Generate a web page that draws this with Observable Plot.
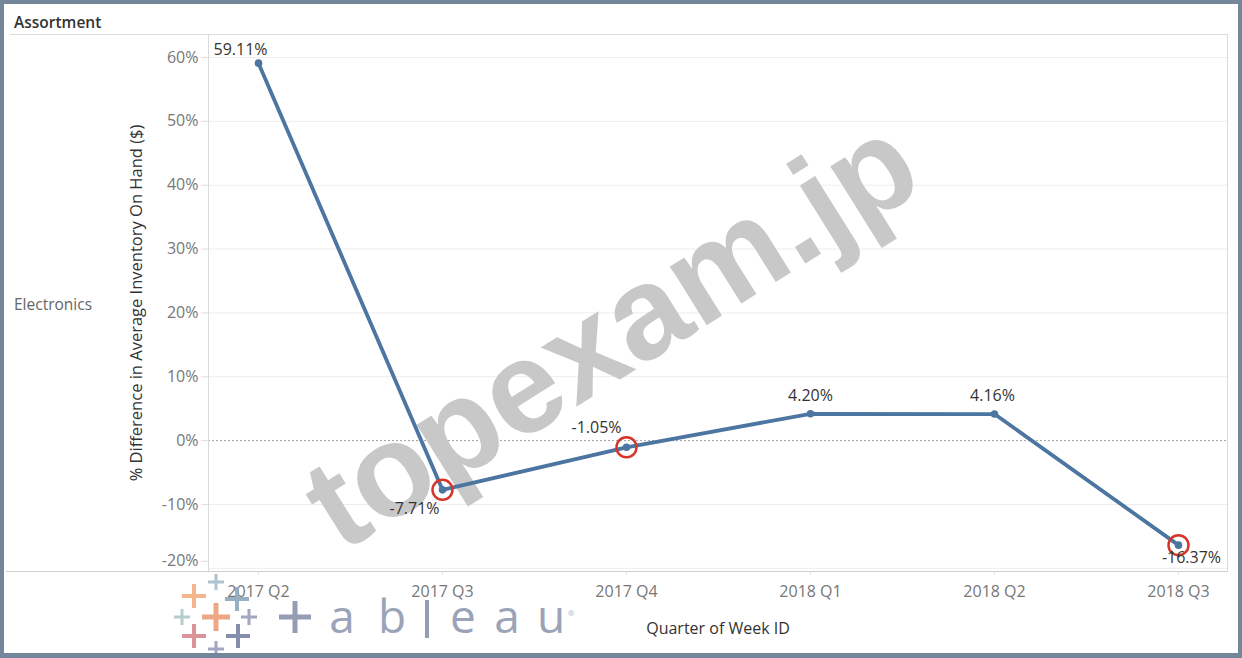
<!DOCTYPE html>
<html>
<head>
<meta charset="utf-8">
<script src="https://cdn.jsdelivr.net/npm/d3@7"></script>
<script src="https://cdn.jsdelivr.net/npm/@observablehq/plot@0.6"></script>
<style>
  html, body { margin: 0; padding: 0; background: #fff; }
  #wrap { position: relative; width: 1242px; height: 658px; overflow: hidden; font-family: "Open Sans", sans-serif; }
  #chart, #logo, #border { position: absolute; left: 0; top: 0; }
  #border { width: 1242px; height: 658px; box-sizing: border-box; border: 4px solid #74869a; border-bottom-width: 5px; pointer-events: none; }
  .hdr { position: absolute; left: 14px; top: 11px; font-size: 15.5px; font-weight: 600; color: #333; }
  .rowlab { position: absolute; left: 14px; top: 293px; font-size: 15.5px; color: #666; }
  .hline { position: absolute; height: 1px; background: #dcdcdc; }
  g[aria-label="y-axis label"], g[aria-label="x-axis label"] { fill: #333; }
  g[aria-label="y-axis label"] { font-size: 16.5px; }
</style>
</head>
<body>
<div id="wrap">
  <div id="chart"></div>
  <div class="hline" style="left:10px; width:1217px; top:34px;"></div>
  <div class="hline" style="left:6px; width:1221px; top:571px; background:#d0d0d0;"></div>
  <div class="hdr">Assortment</div>
  <div class="rowlab">Electronics</div>
  <svg id="logo" width="1242" height="658"></svg>
  <div id="border"></div>
</div>
<script>
// values
var quarters = ["2017 Q2", "2017 Q3", "2017 Q4", "2018 Q1", "2018 Q2", "2018 Q3"];
var pctDiff = [59.11, -7.71, -1.05, 4.20, 4.16, -16.37];
var highlighted = ["2017 Q3", "2017 Q4", "2018 Q3"];
var yTicks = [-20, -10, 0, 10, 20, 30, 40, 50, 60];

var data = quarters.map(function(q, i) { return {quarter: q, value: pctDiff[i]}; });
var fmt = function(v) { return v.toFixed(2) + "%"; };

var lineColor = "#4c76a1";

// one data label, nudged the way Tableau keeps it inside the pane
function label(q, dx, dy) {
  return Plot.text(data.filter(function(d) { return d.quarter === q; }), {
    x: "quarter", y: "value", text: function(d) { return fmt(d.value); },
    dx: dx, dy: dy, fill: "#333", fontSize: 16
  });
}

var plot = Plot.plot({
  width: 1242,
  height: 658,
  marginLeft: 208,
  marginRight: 15,
  marginTop: 34,
  marginBottom: 87,
  style: {fontFamily: "'Open Sans', sans-serif", fontSize: "16px", background: "transparent", overflow: "visible"},
  x: {type: "point", domain: quarters, padding: 0.263},
  y: {domain: [-20.5, 63.6]},
  marks: [
    Plot.ruleY(yTicks.filter(function(t) { return t !== 0; }), {stroke: "#ededed"}),
    Plot.ruleY([0], {stroke: "#a0a0a0", strokeDasharray: "2,2"}),
    Plot.frame({stroke: "#dadada"}),
    Plot.text(["topexam.jp"], {
      frameAnchor: "middle", text: function(d) { return d; }, rotate: -32,
      dx: -106, dy: 32, fontSize: 131, fontWeight: "bold",
      fontFamily: "'Liberation Sans', Arial, sans-serif", fill: "#c8c8c8"
    }),
    Plot.axisY(yTicks.filter(function(t) { return t > -20; }), {
      tickFormat: function(d) { return d + "%"; }, tickSize: 7, tickPadding: 3,
      stroke: "#e0e0e0", fill: "#777",
      label: "% Difference in Average Inventory On Hand ($)", labelAnchor: "center",
      labelArrow: "none", labelOffset: 78
    }),
    Plot.axisY([-20], {
      tickFormat: function(d) { return d + "%"; }, tickSize: 7, tickPadding: 3,
      stroke: "#e0e0e0", fill: "#777", dy: -7, label: null
    }),
    Plot.axisX({
      tickSize: 4, tickPadding: 10, stroke: "#e6e6e6", fill: "#777",
      label: "Quarter of Week ID", labelAnchor: "center", labelArrow: "none", labelOffset: 62
    }),
    Plot.line(data, {x: "quarter", y: "value", stroke: lineColor, strokeWidth: 3.8}),
    Plot.dot(data, {x: "quarter", y: "value", r: 3.8, fill: lineColor}),
    Plot.dot(data.filter(function(d) { return highlighted.indexOf(d.quarter) >= 0; }), {
      x: "quarter", y: "value", r: 10, stroke: "#d7352a", strokeWidth: 2.5, fill: "none"
    }),
    label("2017 Q2", -18, -13),
    label("2017 Q3", -28, 19),
    label("2017 Q4", -30, -19),
    label("2018 Q1", 0, -18),
    label("2018 Q2", -2, -18),
    label("2018 Q3", 13, 13)
  ]
});
document.getElementById("chart").appendChild(plot);

// Tableau logo in the lower left corner
var crosses = [
  {cx: 194, cy: 596, h: 12, w: 4, c: "#f2b081"},
  {cx: 216, cy: 582, h: 8, w: 3, c: "#a8c0cc"},
  {cx: 237, cy: 599, h: 12, w: 4, c: "#8ea9bd"},
  {cx: 216, cy: 617, h: 14, w: 5, c: "#eda07a"},
  {cx: 182, cy: 617, h: 8, w: 3, c: "#b0c8cc"},
  {cx: 249, cy: 617, h: 8, w: 3, c: "#9aa0bc"},
  {cx: 194, cy: 636, h: 12, w: 4, c: "#d98b90"},
  {cx: 238, cy: 636, h: 12, w: 4, c: "#7b86a7"},
  {cx: 216, cy: 649, h: 8, w: 3, c: "#9aa0bc"},
  {cx: 295, cy: 617, h: 16, w: 5, c: "#8c95ad"}
];
var logo = d3.select("#logo").append("g").attr("opacity", 0.92);
crosses.forEach(function(k) {
  logo.append("path")
    .attr("d", "M" + (k.cx - k.h) + "," + k.cy + "H" + (k.cx + k.h) + "M" + k.cx + "," + (k.cy - k.h) + "V" + (k.cy + k.h))
    .attr("stroke", k.c).attr("stroke-width", k.w).attr("fill", "none");
});
var letters = [["a", 342], ["b", 392], ["e", 463], ["a", 507], ["u", 551]];
letters.forEach(function(l) {
  logo.append("text").text(l[0]).attr("x", l[1]).attr("y", 633)
    .attr("text-anchor", "middle").attr("font-family", "'Open Sans', sans-serif")
    .attr("font-size", 46).attr("font-weight", 400).attr("fill", "#939cb2");
});
logo.append("path").attr("d", "M427,600V638").attr("stroke", "#8c95ad").attr("stroke-width", 4);
logo.append("text").text("®").attr("x", 571).attr("y", 616).attr("text-anchor", "middle")
  .attr("font-size", 8).attr("fill", "#aab0c0");
</script>
</body>
</html>
